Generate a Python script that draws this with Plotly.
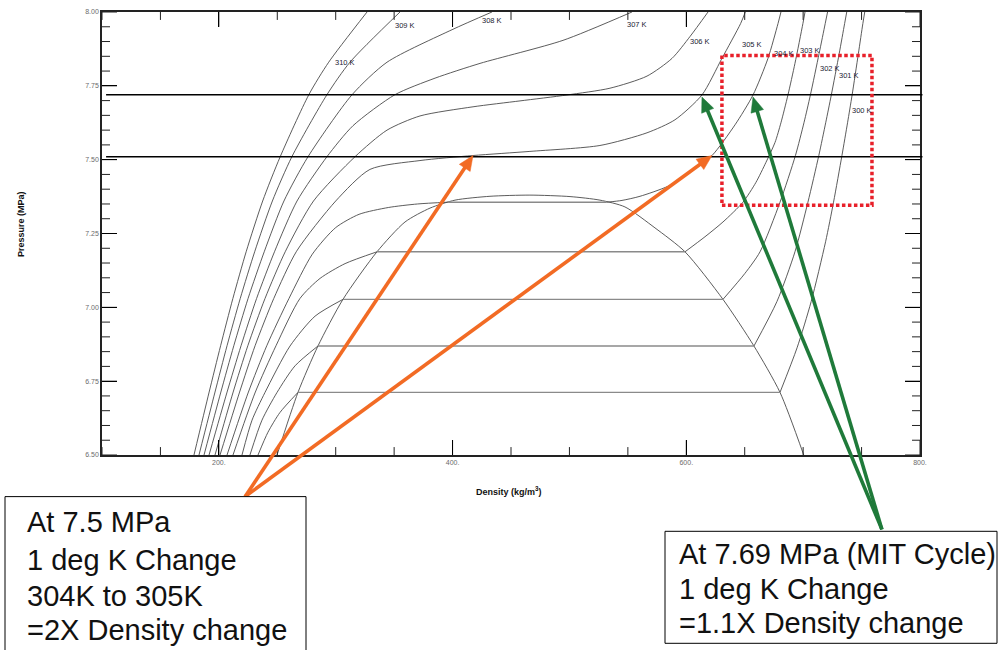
import math
import plotly.graph_objects as go

# ---------------- data (density kg/m3, pressure MPa) ----------------
rho_310 = [178.7, 191.5, 201.5, 212.0, 223.5, 237.5, 252.5, 277.0, 294.0, 326.8]
p_310 = [6.50, 6.71, 6.87, 7.03, 7.19, 7.36, 7.51, 7.72, 7.83, 8.00]
rho_309 = [183.0, 196.5, 207.0, 218.3, 230.8, 245.8, 262.5, 292.5, 312.2, 355.0]
p_309 = [6.50, 6.71, 6.87, 7.03, 7.19, 7.36, 7.51, 7.72, 7.83, 8.00]
rho_308 = [187.3, 201.5, 212.8, 225.0, 239.0, 255.7, 276.3, 314.0, 343.9, 399.5, 433.7]
p_308 = [6.50, 6.71, 6.87, 7.03, 7.19, 7.36, 7.51, 7.72, 7.83, 7.94, 8.00]
rho_307 = [191.6, 206.8, 219.0, 232.3, 247.8, 266.9, 292.5, 314.8, 350.7, 385.0, 423.5, 494.5, 553.5]
p_307 = [6.50, 6.71, 6.87, 7.03, 7.19, 7.36, 7.51, 7.615, 7.72, 7.776, 7.826, 7.904, 8.00]
rho_306 = [196.7, 212.0, 224.8, 239.5, 257.0, 281.0, 316.5, 343.9, 372.1, 417.5, 457.7, 497.9,
           534.7, 566.4, 587.8, 603.2, 618.6]
p_306 = [6.50, 6.71, 6.87, 7.03, 7.19, 7.36, 7.51, 7.60, 7.648, 7.679, 7.699, 7.719,
         7.742, 7.783, 7.843, 7.917, 8.00]
rho_305 = [201.0, 217.5, 231.0, 247.0, 266.5, 300.0, 329.3, 372.1, 417.5, 466.2, 526.1, 566.4,
           590.3, 613.4, 630.5, 646.5, 650.5]
p_305 = [6.50, 6.71, 6.87, 7.03, 7.19, 7.36, 7.467, 7.497, 7.514, 7.528, 7.548, 7.591,
         7.635, 7.719, 7.843, 7.961, 8.00]

rho_304v = [207.0, 225.0, 241.0, 260.0, 280.0, 300.0, 320.0, 345.0, 370.0, 396.0]
p_304v = [6.50, 6.71, 6.87, 7.03, 7.18, 7.27, 7.315, 7.338, 7.350, 7.356]
rho_304l = [532.0, 545.0, 560.4, 584.3, 603.2, 622.0, 641.7, 657.1, 669.9, 678.5, 681.0]
p_304l = [7.356, 7.362, 7.376, 7.410, 7.457, 7.514, 7.618, 7.719, 7.843, 7.961, 8.00]

rho_303v = [212.1, 230.9, 248.9, 269.4, 286.6, 308.0, 335.3]
p_303v = [6.50, 6.71, 6.87, 7.03, 7.098, 7.148, 7.188]
rho_303l = [598.9, 616.0, 631.4, 648.5, 659.6, 668.2, 675.9, 681.0, 687.0, 693.0, 699.8, 701.6]
p_303l = [7.188, 7.239, 7.289, 7.356, 7.423, 7.491, 7.558, 7.625, 7.719, 7.826, 7.961, 8.00]

rho_302v = [219.8, 228.4, 239.5, 260.9, 282.3, 306.2]
p_302v = [6.50, 6.618, 6.712, 6.869, 6.970, 7.027]
rho_302l = [631.4, 650.2, 663.1, 680.2, 693.4, 700.7, 706.2, 713.7, 718.9, 720.9]
p_302l = [7.027, 7.115, 7.188, 7.356, 7.514, 7.625, 7.719, 7.860, 7.961, 8.00]

rho_301v = [226.6, 236.9, 249.8, 265.2, 284.8]
p_301v = [6.50, 6.618, 6.712, 6.802, 6.869]
rho_301l = [657.9, 677.6, 693.0, 704.1, 713.4, 719.3, 724.1, 730.9, 735.5, 737.3]
p_301l = [6.869, 7.020, 7.188, 7.356, 7.514, 7.625, 7.719, 7.860, 7.961, 8.00]

rho_300v = [233.5, 242.0, 252.3, 267.7]
p_300v = [6.50, 6.577, 6.644, 6.712]
rho_300l = [680.2, 694.8, 706.9, 719.2, 726.0, 733.2, 738.0, 741.9, 747.3, 751.1, 752.7]
p_300l = [6.712, 6.863, 7.020, 7.222, 7.356, 7.514, 7.625, 7.719, 7.860, 7.961, 8.00]

tie_p = [7.356, 7.188, 7.027, 6.869, 6.712]
tie_rho_vap = [396.0, 335.3, 306.2, 284.8, 267.7]
tie_rho_liq = [532.0, 598.9, 631.4, 657.9, 680.2]

dome_rho = [249.8, 267.7, 284.8, 306.2, 335.3, 359.3, 380.7, 402.1, 432.0, 466.2, 500.5,
            526.1, 547.5, 573.2, 598.9, 631.4, 657.9, 680.2, 700.5]
dome_p = [6.500, 6.712, 6.869, 7.027, 7.188, 7.289, 7.336, 7.363, 7.376, 7.380, 7.375,
          7.363, 7.340, 7.269, 7.188, 7.027, 6.869, 6.712, 6.500]

label_text = ["310 K", "309 K", "308 K", "307 K", "306 K", "305 K", "304 K", "303 K", "302 K", "301 K", "300 K"]
label_rho = [297.7, 349.0, 423.5, 547.5, 601.4, 645.9, 673.3, 695.6, 712.7, 729.0, 740.0]
label_p = [7.830, 7.954, 7.971, 7.957, 7.900, 7.890, 7.860, 7.870, 7.810, 7.786, 7.665]

ref_p = [7.72, 7.51]

orange_tip_rho = [417.5, 622.0]
orange_tip_p = [7.514, 7.514]
orange_tail = (222.4, 6.359)
green_tip_rho = [613.4, 657.1]
green_tip_p = [7.712, 7.712]
green_tail = (767.4, 6.248)

box_rho = [630.5, 758.9]
box_p = [7.346, 7.853]

x_major_ticks = [200, 400, 600, 800]
x_minor_step = 50
y_major_ticks = [6.50, 6.75, 7.00, 7.25, 7.50, 7.75, 8.00]
y_minor_step = 0.05

box1_lines = ["At 7.5 MPa", "1 deg K Change", "304K to 305K", "=2X Density change"]
box2_lines = ["At 7.69 MPa (MIT Cycle)", "1 deg K Change", "=1.1X Density change"]

# ---------------- figure ----------------
X_RANGE = [100, 800]
Y_RANGE = [6.5, 8.0]
PLOT_W = 818.0
PLOT_H = 447.0
XU = (X_RANGE[1] - X_RANGE[0]) / PLOT_W   # data units per px
YU = (Y_RANGE[1] - Y_RANGE[0]) / PLOT_H

fig = go.Figure()
iso_line = dict(color="#4a4a4a", width=0.9, shape="spline", smoothing=0.7)


def curve(x, y, line=iso_line):
    fig.add_trace(go.Scatter(x=x, y=y, mode="lines", line=line, hoverinfo="skip", showlegend=False))


for rx, py in [(rho_310, p_310), (rho_309, p_309), (rho_308, p_308), (rho_307, p_307),
               (rho_306, p_306), (rho_305, p_305),
               (rho_304v, p_304v), (rho_304l, p_304l),
               (rho_303v, p_303v), (rho_303l, p_303l),
               (rho_302v, p_302v), (rho_302l, p_302l),
               (rho_301v, p_301v), (rho_301l, p_301l),
               (rho_300v, p_300v), (rho_300l, p_300l),
               (dome_rho, dome_p)]:
    curve(rx, py)

tx, ty = [], []
for a, b, p in zip(tie_rho_vap, tie_rho_liq, tie_p):
    tx += [a, b, None]
    ty += [p, p, None]
curve(tx, ty, dict(color="#8a8a8a", width=1.4))

# tick marks drawn as a line trace (inside, all four sides)
MAJ, MIN = 15.0, 8.0
kx, ky = [], []
n_x = int(round((X_RANGE[1] - X_RANGE[0]) / x_minor_step))
for i in range(n_x + 1):
    v = X_RANGE[0] + i * x_minor_step
    ln = MAJ if any(abs(v - m) < 1e-6 for m in x_major_ticks) else MIN
    kx += [v, v, None, v, v, None]
    ky += [Y_RANGE[0], Y_RANGE[0] + ln * YU, None, Y_RANGE[1], Y_RANGE[1] - ln * YU, None]
n_y = int(round((Y_RANGE[1] - Y_RANGE[0]) / y_minor_step))
for i in range(n_y + 1):
    v = Y_RANGE[0] + i * y_minor_step
    ln = MAJ if any(abs(v - m) < 1e-6 for m in y_major_ticks) else MIN
    kx += [X_RANGE[0], X_RANGE[0] + ln * XU, None, X_RANGE[1], X_RANGE[1] - ln * XU, None]
    ky += [v, v, None, v, v, None]
fig.add_trace(go.Scatter(x=kx, y=ky, mode="lines", line=dict(color="#222222", width=1),
                         hoverinfo="skip", showlegend=False))


def px2paper_x(px):
    return (px - 102) / PLOT_W


def py2paper_y(py):
    return (455 - py) / PLOT_H


def data2paper(rho, p):
    return ((rho - X_RANGE[0]) / (X_RANGE[1] - X_RANGE[0]),
            (p - Y_RANGE[0]) / (Y_RANGE[1] - Y_RANGE[0]))


shapes = []
for p in ref_p:
    shapes.append(dict(type="line", xref="paper", yref="y", x0=0.005, x1=1.003, y0=p, y1=p,
                       line=dict(color="black", width=1.4), layer="above"))
shapes.append(dict(type="rect", xref="x", yref="y", x0=box_rho[0], x1=box_rho[1], y0=box_p[0], y1=box_p[1],
                   line=dict(color="#e8202a", width=3.5, dash="3.5px,2.5px"), layer="above"))


def arrow(tail, tip, color, width=3.6, head_len=15.0, head_half=6.5):
    x0, y0 = data2paper(*tail)
    x1, y1 = data2paper(*tip)
    dx, dy = (x1 - x0) * PLOT_W, (y1 - y0) * PLOT_H
    L = math.hypot(dx, dy)
    ux, uy = dx / L, dy / L
    bx, by = x1 * PLOT_W - ux * head_len, y1 * PLOT_H - uy * head_len
    lx, ly = bx - uy * head_half, by + ux * head_half
    rx, ry = bx + uy * head_half, by - ux * head_half
    shapes.append(dict(type="line", xref="paper", yref="paper", x0=x0, y0=y0,
                       x1=(bx + ux * 2) / PLOT_W, y1=(by + uy * 2) / PLOT_H,
                       line=dict(color=color, width=width), layer="above"))
    path = "M {:.5f} {:.5f} L {:.5f} {:.5f} L {:.5f} {:.5f} Z".format(
        x1, y1, lx / PLOT_W, ly / PLOT_H, rx / PLOT_W, ry / PLOT_H)
    shapes.append(dict(type="path", xref="paper", yref="paper", path=path,
                       fillcolor=color, line=dict(color=color, width=0.5), layer="above"))


for r_, p_ in zip(orange_tip_rho, orange_tip_p):
    arrow(orange_tail, (r_, p_), "#f26b24")
for r_, p_ in zip(green_tip_rho, green_tip_p):
    arrow(green_tail, (r_, p_), "#1f7a3a")

shapes.append(dict(type="rect", xref="paper", yref="paper",
                   x0=px2paper_x(5), x1=px2paper_x(306), y0=py2paper_y(655), y1=py2paper_y(497),
                   line=dict(color="black", width=1), fillcolor="white", layer="above"))
shapes.append(dict(type="rect", xref="paper", yref="paper",
                   x0=px2paper_x(665), x1=px2paper_x(997), y0=py2paper_y(645), y1=py2paper_y(532),
                   line=dict(color="black", width=1), fillcolor="white", layer="above"))

annotations = []
for t, x, y in zip(label_text, label_rho, label_p):
    annotations.append(dict(x=x, y=y, xref="x", yref="y", text=t, showarrow=False, xanchor="left",
                            yanchor="middle", font=dict(family="Liberation Sans, Arial", size=7.5, color="#1b1b33")))

text_font = dict(family="Liberation Sans, Arial", size=29, color="#111111")
for t, py in zip(box1_lines, [523, 561, 597, 632]):
    annotations.append(dict(x=px2paper_x(25), y=py2paper_y(py), xref="paper", yref="paper", text=t,
                            showarrow=False, xanchor="left", yanchor="middle", font=text_font))
for t, py in zip(box2_lines, [555, 590, 625]):
    annotations.append(dict(x=px2paper_x(677), y=py2paper_y(py), xref="paper", yref="paper", text=t,
                            showarrow=False, xanchor="left", yanchor="middle", font=text_font))

annotations.append(dict(x=px2paper_x(509), y=py2paper_y(499), xref="paper", yref="paper",
                        text="<b>Density (kg/m<sup>3</sup>)</b>", showarrow=False,
                        font=dict(family="Liberation Sans, Arial", size=9, color="#111")))
annotations.append(dict(x=px2paper_x(14), y=py2paper_y(222), xref="paper", yref="paper",
                        text="<b>Pressure (MPa)</b>", showarrow=False, textangle=-90,
                        font=dict(family="Liberation Sans, Arial", size=9, color="#111")))

tick_font = dict(family="Liberation Sans, Arial", size=7, color="#6b6b6b")
fig.update_layout(
    width=999, height=650,
    margin=dict(l=102, r=79, t=8, b=195),
    plot_bgcolor="white", paper_bgcolor="white",
    showlegend=False,
    shapes=shapes, annotations=annotations,
    xaxis=dict(range=X_RANGE, tick0=0, dtick=200, ticksuffix=".", ticks="inside",
               ticklen=15, tickcolor="black", showline=True, linecolor="#222", linewidth=1.5,
               mirror="allticks", showgrid=False, zeroline=False, tickfont=tick_font),
    yaxis=dict(range=Y_RANGE, tick0=6.5, dtick=0.25, tickformat=".2f", ticks="inside",
               ticklen=15, tickcolor="black", showline=True, linecolor="#222", linewidth=1.5,
               mirror="allticks", showgrid=False, zeroline=False, tickfont=tick_font),
)

fig.write_html("out.html")
